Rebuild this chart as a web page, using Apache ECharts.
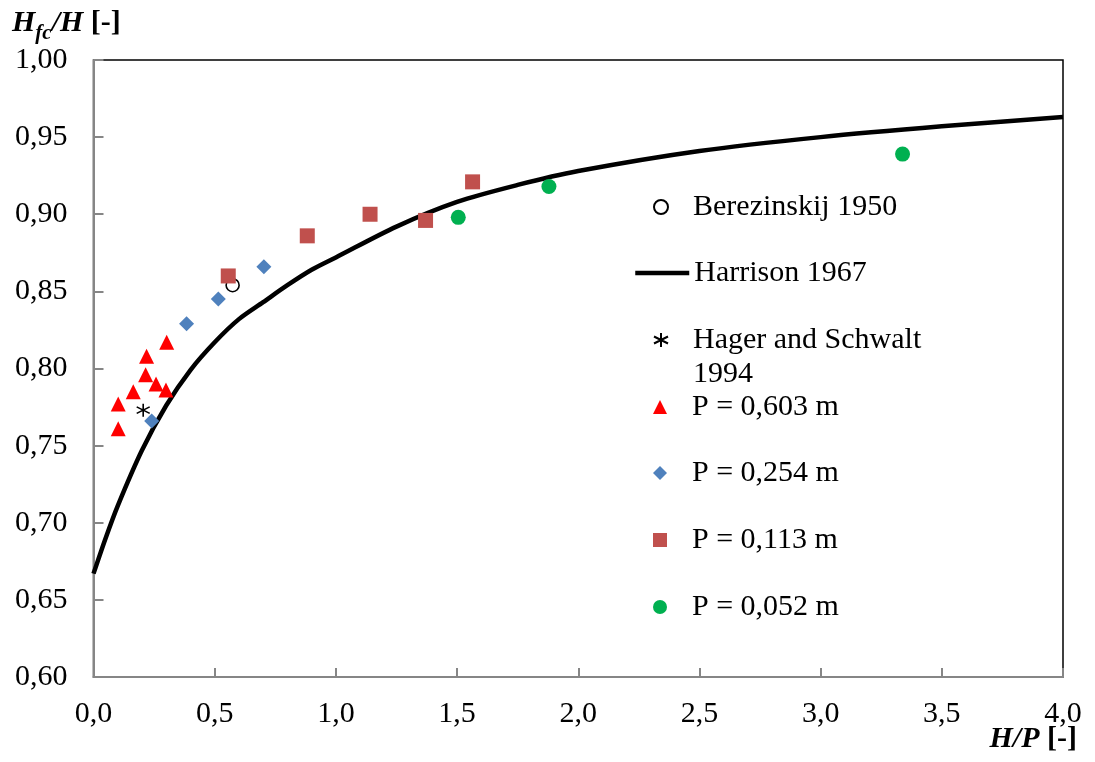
<!DOCTYPE html>
<html>
<head>
<meta charset="utf-8">
<script src="https://cdn.jsdelivr.net/npm/echarts@6/dist/echarts.min.js"></script>
<style>html,body{margin:0;padding:0;background:#fff}#c{width:1095px;height:762px}</style>
</head>
<body>
<div id="c"></div>
<script>
// ---- data ----
const xTicks = [0, 0.5, 1.0, 1.5, 2.0, 2.5, 3.0, 3.5, 4.0];
const yTicks = [0.60, 0.65, 0.70, 0.75, 0.80, 0.85, 0.90, 0.95, 1.00];

const berezX = [0.574];
const berezY = [0.854];

const harrisonX = [0, 0.05, 0.1, 0.2, 0.3, 0.4, 0.5, 0.6, 0.7, 0.8, 0.9, 1.0, 1.25, 1.5, 1.75, 2.0, 2.5, 3.0, 3.5, 4.0];
const harrisonY = [0.667, 0.690, 0.711, 0.747, 0.776, 0.799, 0.817, 0.832, 0.843, 0.854, 0.864, 0.872, 0.892, 0.908, 0.919, 0.928, 0.941, 0.950, 0.957, 0.963];

const hagerX = [0.205];
const hagerY = [0.773];

const p603X = [0.102, 0.102, 0.164, 0.215, 0.219, 0.258, 0.299, 0.302];
const p603Y = [0.761, 0.777, 0.785, 0.796, 0.808, 0.790, 0.786, 0.817];

const p254X = [0.240, 0.384, 0.515, 0.703];
const p254Y = [0.766, 0.829, 0.845, 0.866];

const p113X = [0.556, 0.882, 1.141, 1.370, 1.564];
const p113Y = [0.860, 0.886, 0.900, 0.896, 0.921];

const p052X = [1.505, 1.879, 3.338];
const p052Y = [0.898, 0.918, 0.939];

const names = ['Berezinskij 1950', 'Harrison 1967', 'Hager and Schwalt 1994', 'P = 0,603 m', 'P = 0,254 m', 'P = 0,113 m', 'P = 0,052 m'];

// ---- build ----
const zip = (xs, ys) => xs.map((x, i) => [x, ys[i]]);
const FONT = 'Liberation Serif';
const ASTER = 'path://M6,0L6,12M0,3L12,9M0,9L12,3';

const chart = echarts.init(document.getElementById('c'), null, {renderer: 'canvas'});

const legendCenters = [207, 273, 340, 407, 473, 540, 607];
const LH = 34;
const legends = names.map((n, i) => {
  const isLine = i === 1;
  const isHager = i === 2;
  const lg = {
    data: [n],
    orient: 'vertical',
    selectedMode: false,
    padding: 0,
    left: isLine ? 633 : 653,
    itemWidth: isLine ? 54 : 14,
    itemHeight: 14,
    textStyle: {
      fontFamily: FONT, fontSize: 30, color: '#000', lineHeight: LH,
      padding: isLine ? [0, 0, 0, 0] : [0, 0, 0, 20]
    }
  };
  if (isLine) {
    lg.itemStyle = {opacity: 0};
    lg.lineStyle = {color: '#000', width: 4.5, opacity: 1};
  }
  if (isHager) {
    lg.formatter = () => ' \nHager and Schwalt\n1994';
    lg.top = legendCenters[i] - LH * 1.5;
  } else {
    lg.top = legendCenters[i] - LH / 2;
  }
  return lg;
});

const option = {
  backgroundColor: '#fff',
  animation: false,
  grid: {left: 93.5, right: 32, top: 60, bottom: 85, show: true, borderColor: '#000', borderWidth: 1.5, backgroundColor: 'transparent'},
  xAxis: {
    type: 'value', min: 0, max: 4, interval: 0.5,
    axisLine: {show: true, lineStyle: {color: '#868686', width: 2}},
    axisTick: {show: true, inside: true, length: 9, lineStyle: {color: '#868686', width: 2}},
    splitLine: {show: false},
    axisLabel: {fontFamily: FONT, fontSize: 30, color: '#000', margin: 22,
      formatter: v => v.toFixed(1).replace('.', ',')}
  },
  yAxis: {
    type: 'value', min: 0.6, max: 1.0, interval: 0.05,
    axisLine: {show: true, lineStyle: {color: '#868686', width: 2}},
    axisTick: {show: true, inside: true, length: 10, lineStyle: {color: '#868686', width: 2}},
    splitLine: {show: false},
    axisLabel: {fontFamily: FONT, fontSize: 30, color: '#000', margin: 26,
      formatter: v => v.toFixed(2).replace('.', ',')}
  },
  legend: legends,
  graphic: [
    {
      type: 'text', left: 12, top: 5,
      style: {
        text: '{a|H}{s|fc}{a|/H }{b|[-]}',
        rich: {
          a: {fontFamily: FONT, fontSize: 30, fontWeight: 'bold', fontStyle: 'italic', lineHeight: 32, verticalAlign: 'top', fill: '#000'},
          s: {fontFamily: FONT, fontSize: 21, fontWeight: 'bold', fontStyle: 'italic', lineHeight: 21, padding: [18, 0, 0, 0], fill: '#000'},
          b: {fontFamily: FONT, fontSize: 30, fontWeight: 'bold', lineHeight: 32, verticalAlign: 'top', fill: '#000'}
        }
      }
    },
    {
      type: 'text', right: 18, top: 724,
      style: {
        text: '{a|H/P }{b|[-]}',
        rich: {
          a: {fontFamily: FONT, fontSize: 30, fontWeight: 'bold', fontStyle: 'italic', fill: '#000'},
          b: {fontFamily: FONT, fontSize: 30, fontWeight: 'bold', fill: '#000'}
        }
      }
    }
  ],
  series: [
    {
      name: names[1], type: 'line', data: zip(harrisonX, harrisonY), symbol: 'none', smooth: 0.3,
      lineStyle: {color: '#000', width: 4.5}, itemStyle: {color: '#000'}, z: 2
    },
    {
      name: names[0], type: 'scatter', data: zip(berezX, berezY), symbol: 'circle', symbolSize: 13,
      itemStyle: {color: '#fff', borderColor: '#000', borderWidth: 1.6, opacity: 1}, z: 3
    },
    {
      name: names[2], type: 'scatter', data: zip(hagerX, hagerY), symbol: ASTER, symbolSize: 13,
      itemStyle: {color: 'transparent', borderColor: '#000', borderWidth: 1.6, opacity: 1}, z: 3
    },
    {
      name: names[3], type: 'scatter', data: zip(p603X, p603Y), symbol: 'triangle', symbolSize: 15,
      itemStyle: {color: '#FF0000', opacity: 1}, z: 4
    },
    {
      name: names[4], type: 'scatter', data: zip(p254X, p254Y), symbol: 'diamond', symbolSize: 15,
      itemStyle: {color: '#4F81BD', opacity: 1}, z: 4
    },
    {
      name: names[5], type: 'scatter', data: zip(p113X, p113Y), symbol: 'rect', symbolSize: 15,
      itemStyle: {color: '#C0504D', opacity: 1}, z: 4
    },
    {
      name: names[6], type: 'scatter', data: zip(p052X, p052Y), symbol: 'circle', symbolSize: 15,
      itemStyle: {color: '#00B050', opacity: 1}, z: 4
    }
  ]
};
chart.setOption(option);
</script>
</body>
</html>
